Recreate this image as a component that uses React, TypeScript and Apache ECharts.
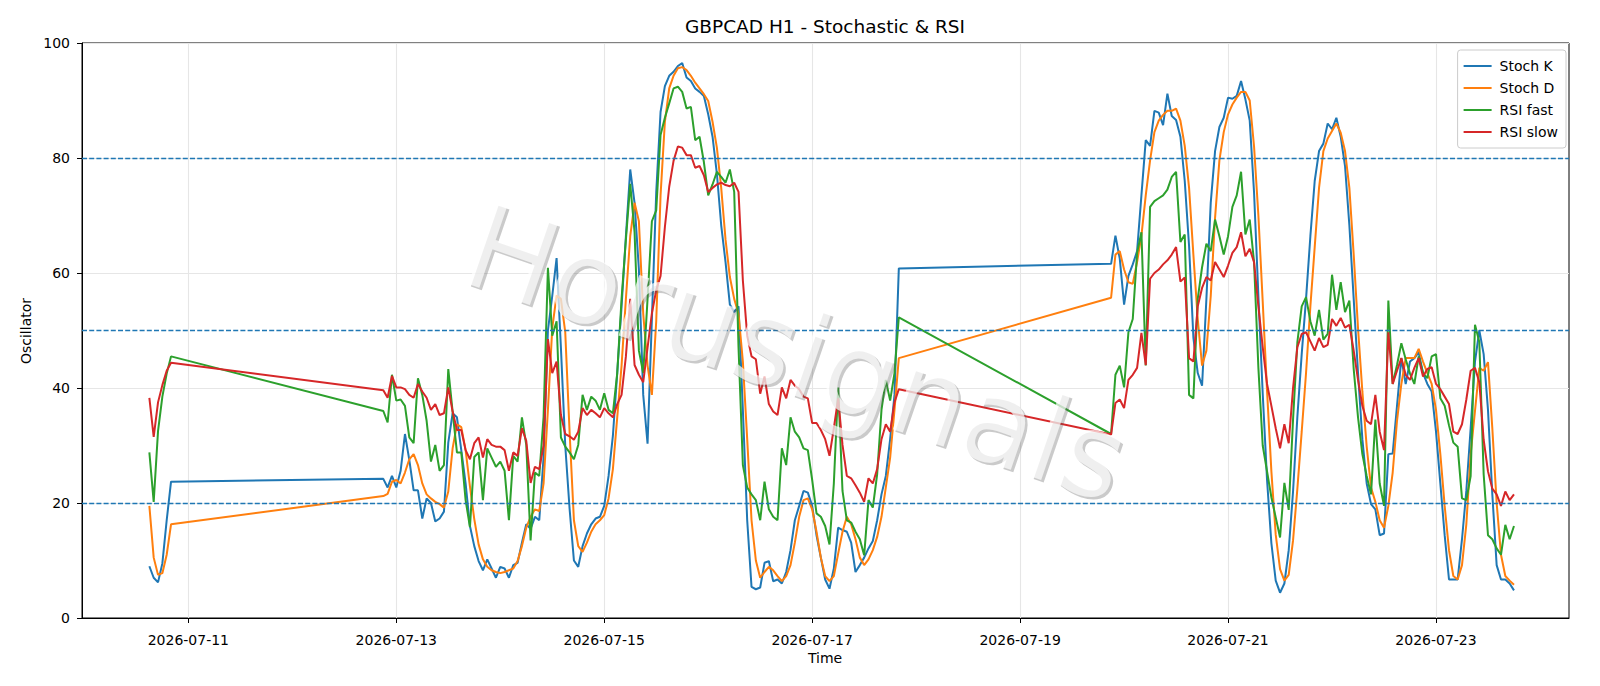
import { useEffect, useRef } from 'react';
import * as echarts from 'echarts';

const TITLE = 'GBPCAD H1 - Stochastic & RSI';
const X_NAME = 'Time';
const Y_NAME = 'Oscillator';
const WATERMARK = 'Horusignals';
const SERIES_NAMES = ['Stoch K', 'Stoch D', 'RSI fast', 'RSI slow'];
const SERIES_COLORS = ['#1f77b4', '#ff7f0e', '#2ca02c', '#d62728'];
const LEVELS = [20, 50, 80];
const X_TICK_LABELS = ['2026-07-11', '2026-07-13', '2026-07-15', '2026-07-17', '2026-07-19', '2026-07-21', '2026-07-23'];
// hourly bars, three trading stretches (weekend gaps between them)
const SEGMENT_STARTS = ['2026-07-10T15:00:00Z', '2026-07-12T21:00:00Z', '2026-07-19T21:00:00Z'];

const stochK1 = [9.0, 7.0, 6.2, 9.5, 17.0, 23.7];
const stochD1 = [19.5, 10.5, 7.5, 7.8, 11.0, 16.3];
const rsiFast1 = [28.8, 20.2, 32.5, 38.5, 42.5, 45.5];
const rsiSlow1 = [38.3, 31.5, 37.5, 40.5, 43.0, 44.4];

const stochK2 = [
  24.2, 22.7, 24.7, 22.7, 25.6, 32.0, 27.5, 22.2, 22.2, 17.3,
  20.8, 20.0, 16.8, 17.3, 18.5, 30.5, 35.6, 34.9, 29.2, 23.4,
  16.0, 12.5, 9.9, 8.3, 10.2, 8.6, 7.0, 8.9, 8.6, 7.0,
  9.2, 9.6, 13.1, 16.3, 15.5, 17.6, 17.0, 28.0, 50.0, 56.0,
  62.6, 47.0, 30.0, 19.0, 10.0, 8.9, 12.5, 14.7, 16.3, 17.3,
  17.6, 19.5, 24.7, 31.7, 42.6, 54.2, 66.4, 78.0, 72.2, 60.6,
  38.8, 30.3, 52.0, 74.0, 88.0, 92.5, 94.3, 95.0, 96.0, 96.5,
  94.0, 93.4, 92.1, 91.5, 90.8, 87.6, 83.7, 77.3, 68.3, 61.9,
  54.5, 53.2, 54.2, 36.2, 17.0, 5.4, 5.0, 5.3, 9.6, 9.9,
  6.4, 6.7, 6.0, 8.0, 11.8, 17.0, 19.5, 22.1, 21.8, 19.5,
  14.4, 10.5, 6.7, 5.1, 8.6, 15.7, 15.3, 15.0, 13.1, 8.0,
  9.2, 10.5, 12.1, 13.4, 17.0, 21.5, 24.7, 31.1, 38.8, 60.8,
];
const stochD2 = [
  21.2, 21.6, 23.7, 24.0, 23.4, 25.3, 27.6, 28.5, 26.6, 23.4,
  21.5, 20.8, 20.2, 19.8, 19.2, 22.0, 29.5, 33.7, 33.2, 29.2,
  22.9, 17.2, 12.8, 10.2, 8.9, 8.3, 8.0, 7.8, 8.0, 8.3,
  8.6, 9.9, 12.5, 15.7, 17.6, 18.9, 18.6, 23.4, 36.2, 50.4,
  56.1, 55.5, 49.7, 32.4, 17.0, 12.5, 11.5, 13.1, 15.0, 16.3,
  17.0, 17.9, 20.8, 25.9, 34.9, 43.9, 55.5, 66.4, 72.2, 69.0,
  52.9, 43.9, 38.8, 51.6, 73.5, 86.3, 92.1, 94.3, 95.6, 95.8,
  95.3, 94.3, 93.1, 92.1, 91.1, 89.9, 86.3, 81.8, 74.8, 65.8,
  59.3, 55.5, 52.9, 44.6, 31.1, 17.0, 10.0, 7.0, 8.0, 8.9,
  8.3, 7.3, 6.4, 7.3, 9.2, 13.1, 17.6, 20.5, 20.8, 18.9,
  15.0, 10.5, 7.3, 6.4, 7.3, 11.2, 15.0, 17.6, 16.3, 13.7,
  10.5, 9.2, 10.2, 11.8, 14.1, 17.6, 22.7, 27.9, 36.2, 45.2,
];
const rsiFast2 = [
  36.0, 34.0, 42.3, 37.8, 38.0, 36.9, 31.4, 30.4, 41.7, 38.8,
  34.3, 27.2, 30.1, 25.6, 26.6, 43.3, 35.9, 28.8, 28.8, 20.5,
  15.8, 28.0, 28.8, 20.5, 29.5, 27.9, 26.3, 27.2, 25.6, 17.0,
  28.2, 27.2, 34.9, 30.1, 13.5, 25.3, 24.7, 35.0, 60.9, 49.1,
  51.6, 31.4, 29.8, 28.8, 27.6, 30.1, 38.8, 36.2, 38.5, 37.8,
  36.2, 39.1, 36.2, 35.6, 42.6, 55.5, 65.8, 75.5, 67.1, 46.5,
  42.6, 55.5, 69.0, 70.9, 84.0, 87.0, 89.5, 92.1, 92.4, 91.5,
  88.6, 88.9, 83.1, 83.7, 79.3, 73.5, 75.4, 77.6, 76.7, 75.7,
  78.0, 74.1, 47.0, 26.6, 22.7, 21.5, 20.5, 17.0, 23.7, 18.9,
  17.6, 17.0, 29.5, 26.6, 34.9, 32.4, 31.4, 29.5, 29.2, 24.0,
  18.2, 17.6, 16.0, 12.8, 23.4, 40.1, 22.1, 17.0, 16.6, 15.0,
  13.7, 10.9, 20.5, 19.2, 25.0, 36.2, 41.4, 37.8, 42.6, 52.3,
];
const rsiSlow2 = [
  39.6, 38.3, 42.1, 40.1, 40.1, 39.8, 38.8, 38.3, 40.7, 39.4,
  38.3, 36.2, 37.2, 35.3, 35.6, 40.1, 35.9, 32.7, 32.7, 29.2,
  27.6, 30.4, 31.4, 27.9, 31.1, 30.1, 29.8, 29.8, 29.2, 25.6,
  28.8, 28.2, 33.0, 30.8, 23.5, 26.3, 25.9, 30.0, 48.5, 42.6,
  44.6, 35.3, 32.0, 31.6, 31.0, 32.4, 36.5, 35.3, 36.2, 35.6,
  34.9, 36.5, 35.6, 34.9, 37.2, 38.8, 45.5, 55.5, 44.0, 42.3,
  41.0, 47.0, 53.0, 57.0, 59.5, 68.0, 75.0, 79.5, 82.0, 81.8,
  80.5, 80.5, 78.3, 78.6, 77.0, 74.1, 74.8, 75.4, 75.7, 75.3,
  75.1, 75.7, 74.1, 58.7, 49.1, 45.5, 45.0, 39.0, 42.0, 37.2,
  35.9, 35.3, 40.1, 38.2, 41.4, 40.4, 39.8, 38.5, 38.2, 33.9,
  33.9, 32.7, 31.1, 28.2, 33.0, 38.2, 30.1, 24.7, 24.3, 23.1,
  21.8, 20.2, 24.3, 23.4, 25.9, 31.1, 33.7, 32.4, 37.5, 39.8,
];

const stochK3 = [
  61.6, 66.5, 62.5, 54.5, 59.5, 61.5, 63.8, 73.5, 83.1, 82.1,
  88.2, 87.9, 85.7, 91.2, 87.3, 86.6, 83.7, 76.0, 64.7, 48.7,
  42.6, 40.4, 55.5, 72.2, 81.2, 85.4, 87.0, 90.5, 90.3, 90.8,
  93.4, 90.2, 86.5, 74.0, 56.0, 39.0, 24.0, 13.0, 6.5, 4.4,
  6.0, 11.8, 22.0, 35.0, 45.9, 55.5, 66.4, 76.0, 81.2, 82.5,
  86.0, 85.0, 87.0, 83.7, 78.6, 68.3, 55.5, 42.6, 31.1, 23.4,
  19.8, 18.9, 14.4, 14.7, 28.5, 28.6, 36.9, 45.2, 40.7, 44.6,
  45.2, 46.2, 42.6, 40.7, 39.4, 32.4, 23.4, 14.4, 6.7, 6.7,
  6.7, 13.7, 22.1, 33.0, 44.6, 50.0, 45.9, 36.2, 21.5, 9.2,
  6.7, 6.7, 6.0, 4.8,
];
const stochD3 = [
  55.7, 63.2, 63.8, 60.6, 58.4, 58.1, 61.9, 66.5, 73.5, 79.6,
  84.5, 86.5, 87.5, 88.2, 88.2, 88.6, 86.5, 82.1, 74.8, 63.1,
  52.0, 43.9, 46.5, 56.0, 69.6, 79.6, 84.5, 87.6, 89.3, 90.5,
  91.5, 91.5, 90.0, 82.0, 70.0, 55.0, 39.5, 25.5, 14.5, 8.5,
  6.5, 7.5, 13.5, 22.5, 32.4, 42.6, 54.2, 64.5, 74.8, 81.2,
  83.4, 84.7, 86.0, 84.4, 81.2, 74.8, 63.2, 50.4, 39.4, 29.8,
  22.7, 20.2, 17.0, 15.7, 19.5, 25.3, 34.3, 40.7, 45.2, 45.2,
  45.2, 46.8, 44.6, 42.6, 40.7, 36.2, 28.5, 19.5, 11.8, 7.3,
  6.7, 9.2, 16.3, 28.5, 36.0, 43.5, 43.0, 44.5, 33.0, 20.0,
  11.0, 7.3, 6.5, 5.8,
];
const rsiFast3 = [
  32.0, 42.3, 43.9, 40.1, 49.7, 52.0, 63.5, 67.1, 43.9, 71.5,
  72.5, 73.0, 73.5, 74.5, 76.7, 77.6, 65.4, 66.7, 38.8, 38.2,
  55.5, 61.0, 65.1, 63.8, 69.3, 66.4, 63.2, 66.4, 71.5, 73.5,
  77.6, 66.7, 69.3, 61.9, 43.5, 30.0, 25.5, 21.0, 17.5, 14.0,
  23.5, 18.8, 34.5, 48.0, 54.2, 55.8, 51.6, 49.1, 53.6, 48.4,
  49.4, 59.7, 53.6, 58.4, 53.2, 55.2, 43.3, 34.9, 28.5, 24.7,
  21.5, 34.5, 23.4, 19.5, 55.2, 40.7, 44.0, 47.8, 45.0, 42.5,
  40.7, 45.5, 42.6, 41.7, 45.5, 45.9, 38.2, 36.9, 33.5, 30.5,
  29.8, 20.8, 20.5, 24.7, 51.0, 48.0, 25.0, 14.4, 13.7, 12.1,
  11.0, 16.2, 13.7, 16.0,
];
const rsiSlow3 = [
  31.9, 37.4, 38.0, 36.5, 41.4, 42.3, 43.5, 49.6, 44.0, 59.0,
  60.0, 60.6, 61.5, 62.2, 63.2, 64.5, 58.5, 59.2, 45.2, 44.6,
  54.2, 57.4, 59.3, 58.7, 61.9, 60.6, 59.3, 61.3, 63.5, 64.5,
  67.1, 62.9, 64.2, 61.9, 54.2, 47.1, 40.7, 36.9, 33.0, 29.5,
  33.7, 30.4, 40.0, 47.1, 49.4, 49.7, 48.1, 46.5, 48.7, 47.1,
  47.5, 52.0, 50.8, 52.2, 50.5, 51.0, 46.5, 41.4, 36.9, 34.3,
  33.7, 38.8, 32.4, 29.2, 49.7, 40.7, 43.0, 45.2, 42.3, 41.4,
  43.5, 45.2, 42.0, 43.3, 43.6, 40.7, 39.8, 38.5, 37.2, 32.4,
  32.0, 33.7, 38.0, 43.0, 43.5, 41.0, 31.0, 25.5, 22.5, 21.5,
  19.5, 22.0, 20.5, 21.5,
];

const SERIES_SEGMENTS = [
  [stochK1, stochK2, stochK3],
  [stochD1, stochD2, stochD3],
  [rsiFast1, rsiFast2, rsiFast3],
  [rsiSlow1, rsiSlow2, rsiSlow3],
];

const ORIGIN = Date.UTC(2026, 6, 11);
const HOUR = 3600000;
const toHours = (iso: string) => (Date.parse(iso) - ORIGIN) / HOUR;

function buildSeriesData(segments: number[][]) {
  const out: [number, number][] = [];
  segments.forEach((vals, si) => {
    const h0 = toHours(SEGMENT_STARTS[si]);
    vals.forEach((v, i) => out.push([h0 + i, v]));
  });
  return out;
}

const FONT = 'DejaVu Sans, Liberation Sans, sans-serif';

export default function App() {
  const ref = useRef<HTMLDivElement>(null);
  useEffect(() => {
    if (!ref.current) return;
    const chart = echarts.init(ref.current, undefined, { renderer: 'svg' });
    const tickHours = X_TICK_LABELS.map((d) => toHours(d + 'T00:00:00Z'));
    const series: any[] = SERIES_NAMES.map((name, i) => ({
      name,
      type: 'line',
      data: buildSeriesData(SERIES_SEGMENTS[i]),
      showSymbol: false,
      symbol: 'none',
      lineStyle: { width: 2, color: SERIES_COLORS[i] },
      itemStyle: { color: SERIES_COLORS[i] },
      z: 2 + i,
    }));
    series[3].markLine = {
      silent: true,
      symbol: 'none',
      label: { show: false },
      lineStyle: { color: '#1f77b4', type: [5, 2.2], width: 1.3, opacity: 1 },
      data: LEVELS.map((v) => ({ yAxis: v })),
      z: 10,
    };
    const wmStyle = {
      text: WATERMARK, fontSize: 117, fontFamily: FONT,
      textAlign: 'center', textVerticalAlign: 'middle',
    };
    chart.setOption({
      animation: false,
      backgroundColor: '#ffffff',
      textStyle: { fontFamily: FONT },
      grid: {
        left: 82,
        right: 31,
        top: 43,
        bottom: 68,
        show: true,
        borderColor: '#000',
        borderWidth: 1,
        backgroundColor: 'transparent',
      },
      legend: {
        data: SERIES_NAMES,
        orient: 'vertical',
        right: 34,
        top: 50,
        icon: 'rect',
        itemWidth: 28,
        itemHeight: 2,
        itemGap: 6,
        padding: [8, 8, 8, 6],
        backgroundColor: 'rgba(255,255,255,0.8)',
        borderColor: '#cccccc',
        borderWidth: 1,
        borderRadius: 3,
        textStyle: { fontSize: 14, color: '#000', fontFamily: FONT, lineHeight: 16, padding: [0, 0, 0, 3] },
      },
      xAxis: {
        type: 'value',
        min: -24.55,
        max: 318.7,
        axisLine: { show: true, onZero: false, lineStyle: { color: '#000', width: 1 } },
        axisTick: { show: true, inside: false, length: 5, lineStyle: { color: '#000' }, customValues: tickHours },
        axisLabel: {
          customValues: tickHours,
          margin: 15,
          fontSize: 14,
          color: '#000',
          fontFamily: FONT,
          formatter: (v: number) => new Date(ORIGIN + Math.round(v) * HOUR).toISOString().slice(0, 10),
        },
        splitLine: { show: true, lineStyle: { color: '#e6e6e6', width: 1.1 } },
      },
      yAxis: {
        type: 'value',
        min: 0,
        max: 100,
        interval: 20,
        axisLine: { show: true, onZero: false, lineStyle: { color: '#000', width: 1 } },
        axisTick: { show: true, inside: false, length: 5, lineStyle: { color: '#000' } },
        axisLabel: { margin: 12, fontSize: 14, color: '#000', fontFamily: FONT },
        splitLine: { show: true, lineStyle: { color: '#e6e6e6', width: 1.1 } },
      },
      series,
      graphic: [
        {
          type: 'text',
          x: 825,
          y: 26,
          z: 50,
          style: { text: TITLE, fontSize: 18.5, fill: '#000', fontFamily: FONT, textAlign: 'center', textVerticalAlign: 'middle' },
        },
        {
          type: 'text',
          x: 825,
          y: 658,
          z: 50,
          style: { text: X_NAME, fontSize: 14, fill: '#000', fontFamily: FONT, textAlign: 'center', textVerticalAlign: 'middle' },
        },
        {
          type: 'text',
          x: 26,
          y: 331,
          rotation: Math.PI / 2,
          z: 50,
          style: { text: Y_NAME, fontSize: 14, fill: '#000', fontFamily: FONT, textAlign: 'center', textVerticalAlign: 'middle' },
        },
        {
          type: 'text',
          x: 799,
          y: 356,
          rotation: -0.33,
          z: 40,
          silent: true,
          style: { ...wmStyle, fill: 'rgba(90,90,90,0.32)' },
        },
        {
          type: 'text',
          x: 796.5,
          y: 353.5,
          rotation: -0.33,
          z: 41,
          silent: true,
          style: { ...wmStyle, fill: 'rgba(255,255,255,0.7)' },
        },
      ],
    });
    return () => chart.dispose();
  }, []);
  return <div ref={ref} style={{ position: 'fixed', left: 0, top: 0, width: 1600, height: 686 }} />;
}
